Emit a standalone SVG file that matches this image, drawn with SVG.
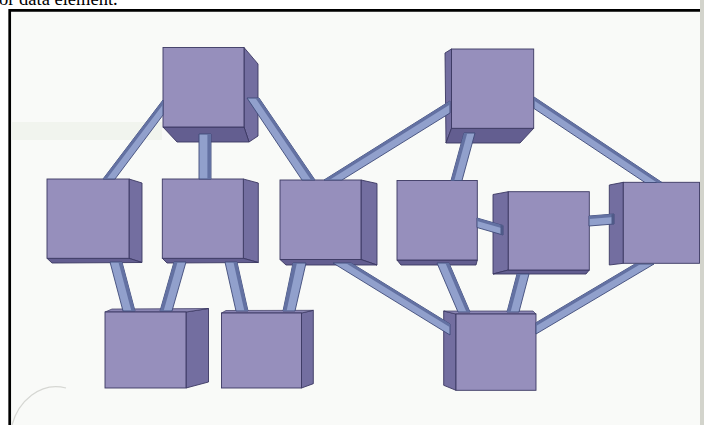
<svg xmlns="http://www.w3.org/2000/svg" width="704" height="425" viewBox="0 0 704 425">
<style>
.front{fill:#968fbc;stroke:#3b3862;stroke-width:0.9}
.side{fill:#736ea0;stroke:#3b3862;stroke-width:0.9}
.bottom{fill:#635e90;stroke:#3b3862;stroke-width:0.9}
.top{fill:#8a85b3;stroke:#3b3862;stroke-width:0.7}
.rod{fill:#91a0cc;stroke:#3e4a78;stroke-width:0.9}
.stripe{fill:#6371a2}
.cap{fill:#4f5a88}
.ghost{fill:#f1f4ee}
</style>
<rect x="0" y="0" width="704" height="425" fill="#ffffff"/>
<g id="page">
  <rect x="10" y="11" width="690" height="414" fill="#f9faf8"/>
  <rect class="ghost" x="12" y="122" width="150" height="18"/>
  <rect x="700" y="0" width="4" height="425" fill="#d3d4cc"/>
  <path d="M12,425 C18,402 40,381 66,388" fill="none" stroke="#d6d7d3" stroke-width="1.2"/>
  <path d="M9.7,425 V10.3 H700" fill="none" stroke="#000000" stroke-width="2.7"/>
  <text x="-1" y="5" font-family="'Liberation Serif', 'Times New Roman', serif" font-size="18.5" fill="#000000">or data element.</text>
</g>

<g id="node-a">
  <polygon class="side" points="244,47.5 258,64 258,136 249,142 244,127"/>
  <polygon class="bottom" points="163,127 244,127 249,142 177,142"/>
  <rect class="front" x="163" y="47.5" width="81" height="79.5"/>
</g>
<g id="node-t2">
  <polygon class="side" points="445,53 451.5,49 451.5,128.3 446,143"/>
  <polygon class="bottom" points="451.5,128.3 533.7,128.3 520,143 446,143"/>
  <rect class="front" x="451.5" y="49" width="82.2" height="79.3"/>
</g>
<g id="node-b1">
  <polygon class="side" points="129,179 142,183 142,262.5 129,258.3"/>
  <polygon class="bottom" points="47,258.3 129,258.3 142,262.5 52,263"/>
  <rect class="front" x="47" y="179" width="82" height="79.3"/>
</g>
<g id="node-b2">
  <polygon class="side" points="243.3,179 258.3,183 258.3,262.5 243.3,258.3"/>
  <polygon class="bottom" points="162.3,258.3 243.3,258.3 258.3,262.5 167,263"/>
  <rect class="front" x="162.3" y="179" width="81" height="79.3"/>
</g>
<g id="node-b3">
  <polygon class="side" points="361,180 377,183.5 377,265 361,259.5"/>
  <polygon class="bottom" points="280,259.5 361,259.5 377,265 286,265"/>
  <rect class="front" x="280" y="180" width="81" height="79.5"/>
</g>
<g id="node-b4">
  <polygon class="bottom" points="397,260 477.3,260 476,265 401,265"/>
  <rect class="front" x="397" y="180.5" width="80.3" height="79.5"/>
</g>
<g id="node-b5">
  <polygon class="side" points="493,194.5 508.3,191.7 508.3,270 493,274"/>
  <polygon class="bottom" points="508.3,270 589.3,270 586,274 493,274"/>
  <rect class="front" x="508.3" y="191.7" width="81" height="78.3"/>
</g>
<g id="node-b6">
  <polygon class="side" points="609.3,185 623.3,182.3 623.3,263.3 609.3,265"/>
  <rect class="front" x="623.3" y="182.3" width="76.2" height="81"/>
</g>
<g id="node-c1">
  <polygon class="side" points="186,312 208.5,308.5 208.5,382 186,388"/>
  <polygon class="top" points="105,312 112,309 208.5,308.5 186,312"/>
  <rect class="front" x="105" y="312" width="81" height="76"/>
</g>
<g id="node-c2">
  <polygon class="side" points="301.5,313 313.3,310.3 313.3,383.7 301.5,388"/>
  <polygon class="top" points="221.5,313 226,310.5 313.3,310.3 301.5,313"/>
  <rect class="front" x="221.5" y="313" width="80" height="75"/>
</g>
<g id="node-c3">
  <polygon class="side" points="443.7,311 456,314 456,390.3 443.7,385.3"/>
  <polygon class="top" points="443.7,311 533,311 536,314 456,314"/>
  <rect class="front" x="456" y="314" width="80" height="76.3"/>
</g>

<g id="connectors">
  <polygon class="rod" points="163,100 103,179 115,179 163,115"/>
  <polygon class="stripe" points="163,100 103,179 106.6,179 163,104.5"/>

  <polygon class="rod" points="211,134 211,179 199,179 199,134"/>
  <polygon class="stripe" points="211,134 211,179 207.4,179 207.4,134"/>

  <polygon class="rod" points="259,98 315,180 302,180 247,98"/>
  <polygon class="stripe" points="259,98 315,180 311.1,180 255.4,98"/>

  <polygon class="rod" points="324,180 450,101 450,113 342,180"/>
  <polygon class="stripe" points="324,180 450,101 450,104.6 329.4,180"/>

  <polygon class="rod" points="464,133 451,180.5 462,180.5 475,133"/>
  <polygon class="stripe" points="464,133 451,180.5 454.3,180.5 467.3,133"/>

  <polygon class="rod" points="534,97 662,182.5 645,182.5 534,108.5"/>
  <polygon class="stripe" points="534,97 662,182.5 656.9,182.5 534,100.5"/>

  <polygon class="rod" points="477,218 503,225.5 503,235 477,227.5"/>
  <polygon class="stripe" points="477,218 503,225.5 503,228.4 477,220.9"/>
  <polygon class="cap" points="500.5,224.8 503,225.5 503,235 500.5,234.3"/>

  <polygon class="rod" points="589,216 614,214 614,224 589,226"/>
  <polygon class="stripe" points="589,216 614,214 614,217 589,219"/>
  <polygon class="cap" points="611.5,214.2 614,214 614,224 611.5,224.2"/>

  <polygon class="rod" points="122,262 135,311 123,311 110,262"/>
  <polygon class="stripe" points="122,262 135,311 131.4,311 118.4,262"/>

  <polygon class="rod" points="174,262 160,311 172,311 186,262"/>
  <polygon class="stripe" points="174,262 160,311 163.6,311 177.6,262"/>

  <polygon class="rod" points="237,262 248,311 236,311 225,262"/>
  <polygon class="stripe" points="237,262 248,311 244.4,311 233.4,262"/>

  <polygon class="rod" points="293,263 283,311 295,311 306,263"/>
  <polygon class="stripe" points="293,263 283,311 286.6,311 296.9,263"/>

  <polygon class="rod" points="351,263 450,324 450,335 333,263"/>
  <polygon class="stripe" points="351,263 450,324 450,327.3 345.6,263"/>

  <polygon class="rod" points="449,263 470,312 458,312 437,263"/>
  <polygon class="stripe" points="449,263 470,312 466.4,312 445.4,263"/>

  <polygon class="rod" points="517,274 507,312 519,312 529,274"/>
  <polygon class="stripe" points="517,274 507,312 510.6,312 520.6,274"/>

  <polygon class="rod" points="635,264 536,322.7 536,334 654,264"/>
  <polygon class="stripe" points="635,264 536,322.7 536,326.1 640.7,264"/>
</g>
</svg>
